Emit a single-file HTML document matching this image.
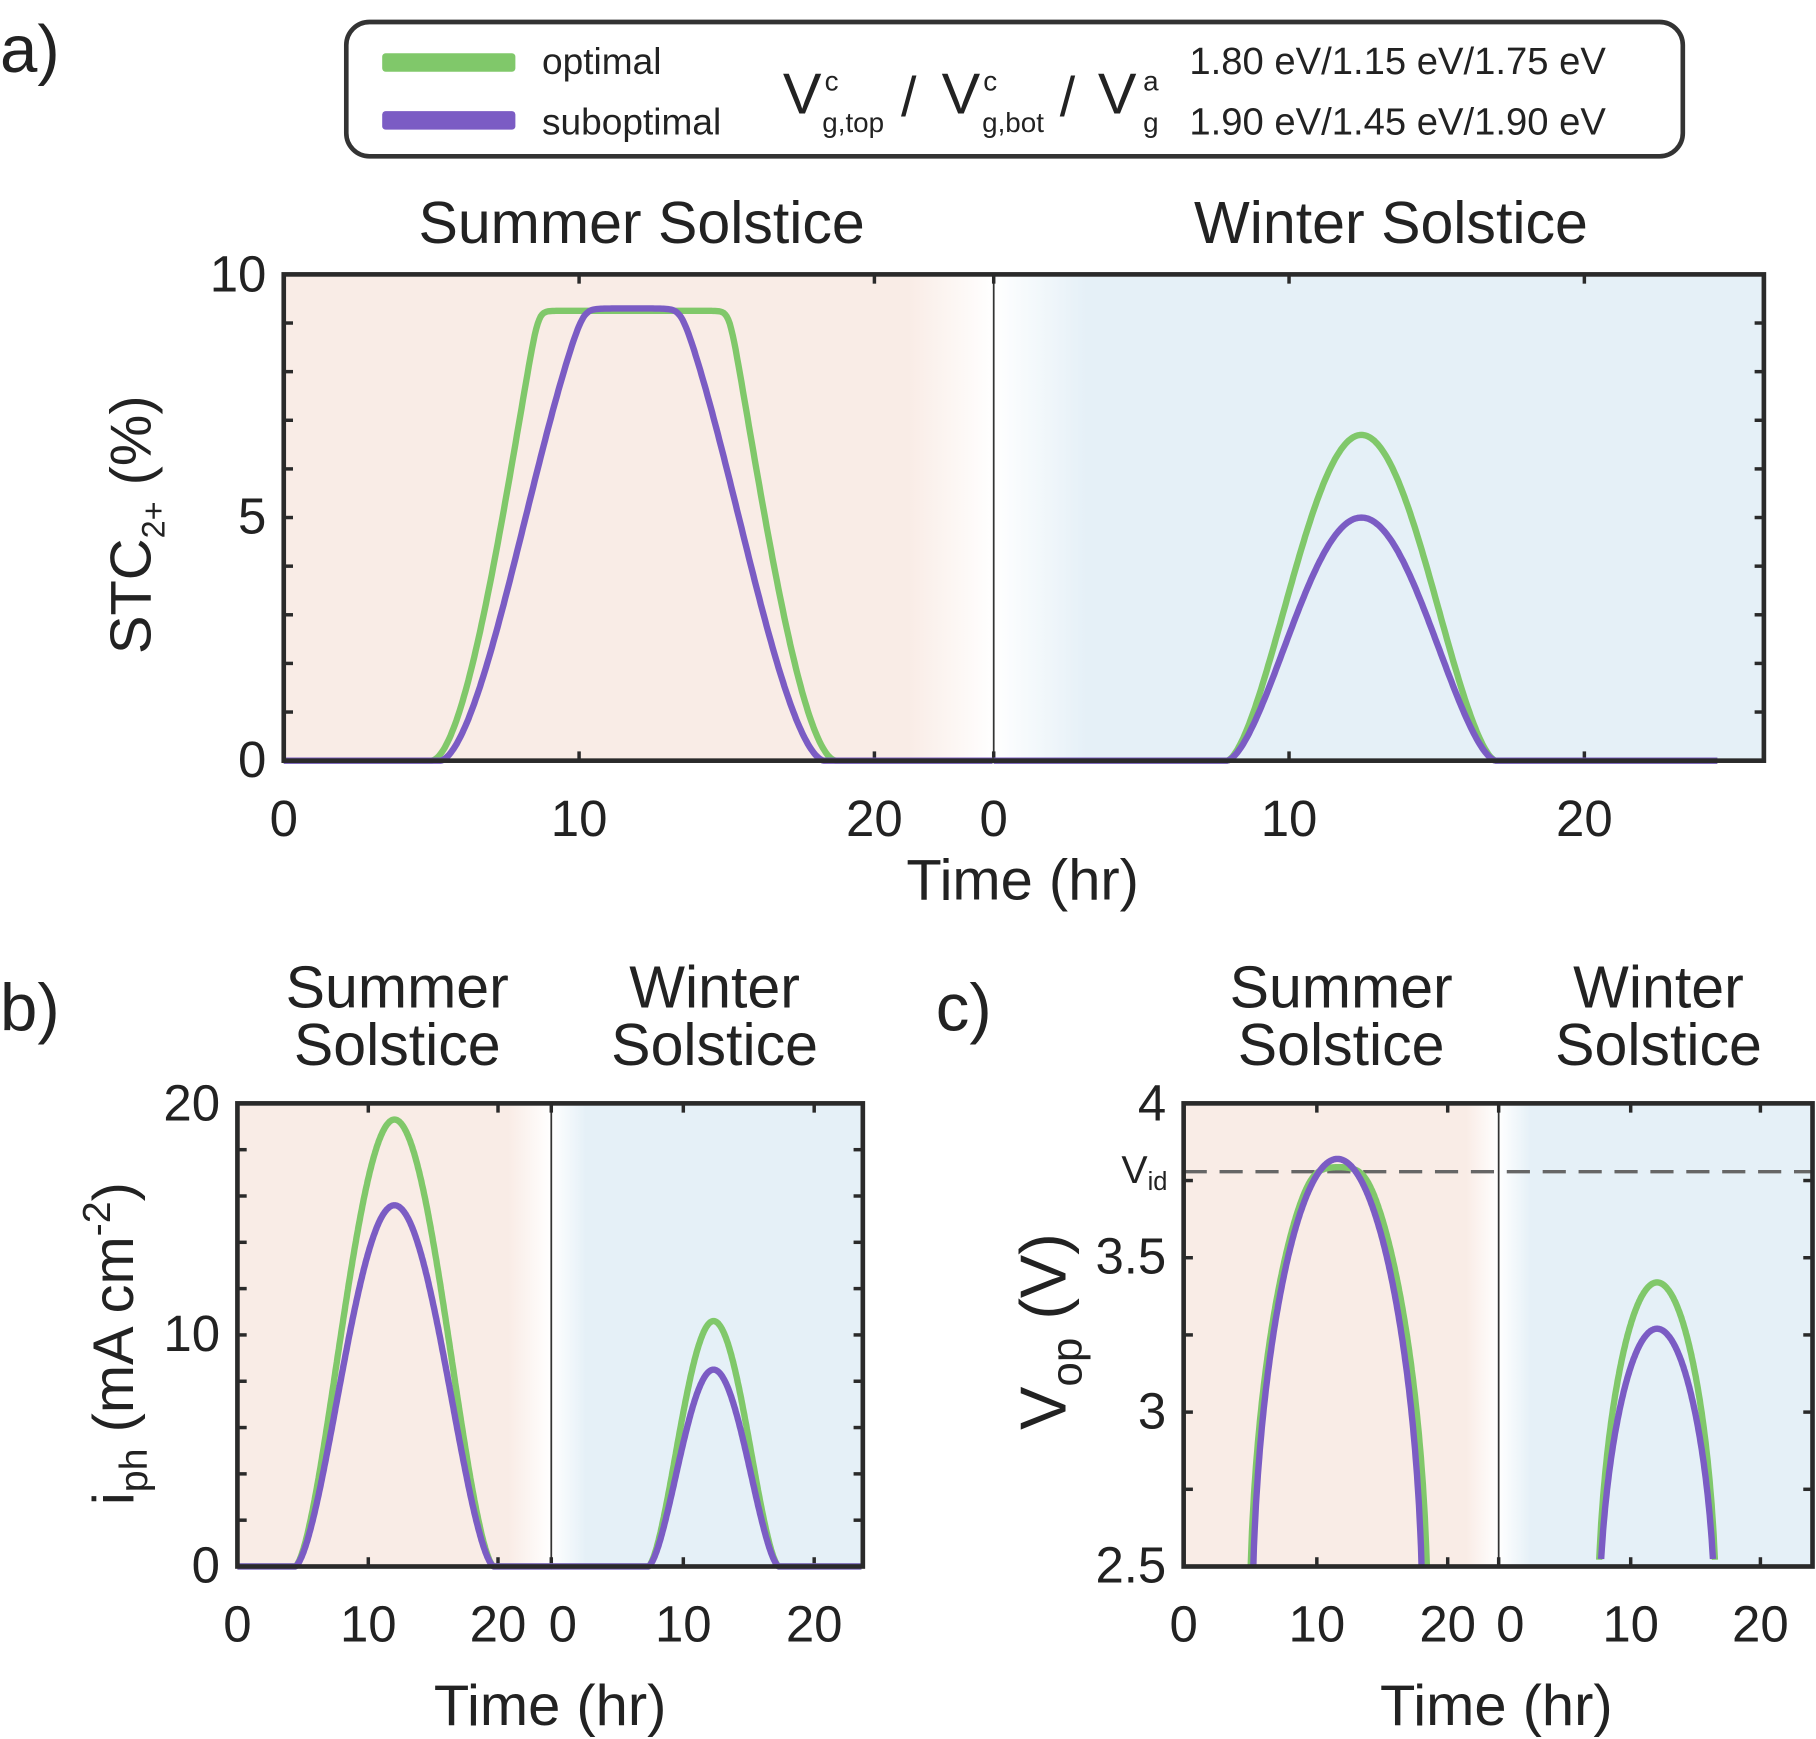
<!DOCTYPE html>
<html><head><meta charset="utf-8"><style>
html,body{margin:0;padding:0;background:#fff}
svg{display:block}
text{font-family:"Liberation Sans",sans-serif;fill:#222}
</style></head><body>
<svg id="s" width="1816" height="1739" viewBox="0 0 1568 1502" preserveAspectRatio="none" xmlns="http://www.w3.org/2000/svg">
<defs>
<linearGradient id="ga" x1="0" x2="1"><stop offset="0" stop-color="#f9ece6"/><stop offset="1" stop-color="#fff"/></linearGradient>
<linearGradient id="gb" x1="0" x2="1"><stop offset="0" stop-color="#fff"/><stop offset="1" stop-color="#e5f0f7"/></linearGradient>
</defs>
<text x="0" y="62" font-size="58">a)</text>
<text x="0" y="890" font-size="58">b)</text>
<text x="808" y="890" font-size="58">c)</text>
<rect x="299" y="19" width="1154" height="116" rx="20" fill="#fff" stroke="#333" stroke-width="4"/>
<rect x="330" y="46" width="115" height="16" rx="3" fill="#80c86a"/>
<rect x="330" y="96" width="115" height="16" rx="3" fill="#7b5cc4"/>
<text x="468" y="64" font-size="32">optimal</text>
<text x="468" y="116" font-size="32">suboptimal</text>
<text x="676" y="98" font-size="50">V</text>
<text x="712" y="78" font-size="24">c</text>
<text x="710" y="114" font-size="24">g,top</text>
<text x="778" y="100" font-size="48">/</text>
<text x="813" y="98" font-size="50">V</text>
<text x="849" y="78" font-size="24">c</text>
<text x="848" y="114" font-size="24">g,bot</text>
<text x="915" y="100" font-size="48">/</text>
<text x="948" y="98" font-size="50">V</text>
<text x="987" y="78" font-size="24">a</text>
<text x="987" y="114" font-size="24">g</text>
<text x="1027" y="64" font-size="33">1.80 eV/1.15 eV/1.75 eV</text>
<text x="1027" y="116" font-size="33">1.90 eV/1.45 eV/1.90 eV</text>
<text x="554" y="210" font-size="51" text-anchor="middle">Summer Solstice</text>
<text x="1201" y="210" font-size="51" text-anchor="middle">Winter Solstice</text>
<rect x="245" y="237" width="540" height="420" fill="#f9ece6"/>
<rect x="784" y="237" width="74" height="420" fill="url(#ga)"/>
<rect x="858" y="237" width="80" height="420" fill="url(#gb)"/>
<rect x="937" y="237" width="586" height="420" fill="#e5f0f7"/>
<line x1="858" y1="237" x2="858" y2="657" stroke="#333" stroke-width="1.5"/>
<g id="ta"></g>
<g id="ca"></g>
<rect x="245" y="237" width="1278" height="420" fill="none" stroke="#2a2a2a" stroke-width="4"/>
<g font-size="44" text-anchor="middle">
<text x="245" y="722">0</text><text x="500" y="722">10</text><text x="755" y="722">20</text>
<text x="858" y="722">0</text><text x="1113" y="722">10</text><text x="1368" y="722">20</text>
</g>
<g font-size="44" text-anchor="end">
<text x="230" y="671">0</text><text x="230" y="461">5</text><text x="230" y="252">10</text>
</g>
<text x="883" y="777" font-size="50" text-anchor="middle">Time (hr)</text>
<text transform="translate(130,565) rotate(-90)" font-size="50">STC<tspan font-size="28" dy="12">2+</tspan><tspan dy="-12"> (%)</tspan></text>
<text x="343" y="870" font-size="51" text-anchor="middle">Summer</text>
<text x="343" y="920" font-size="51" text-anchor="middle">Solstice</text>
<text x="617" y="870" font-size="51" text-anchor="middle">Winter</text>
<text x="617" y="920" font-size="51" text-anchor="middle">Solstice</text>
<rect x="205" y="953" width="235" height="400" fill="#f9ece6"/>
<rect x="439" y="953" width="37" height="400" fill="url(#ga)"/>
<rect x="476" y="953" width="30" height="400" fill="url(#gb)"/>
<rect x="505" y="953" width="240" height="400" fill="#e5f0f7"/>
<line x1="476" y1="953" x2="476" y2="1353" stroke="#333" stroke-width="1.5"/>
<g id="tb"></g>
<g id="cb"></g>
<rect x="205" y="953" width="540" height="400" fill="none" stroke="#2a2a2a" stroke-width="4"/>
<g font-size="44" text-anchor="middle">
<text x="205" y="1418">0</text><text x="318" y="1418">10</text><text x="430" y="1418">20</text>
<text x="486" y="1418">0</text><text x="590" y="1418">10</text><text x="703" y="1418">20</text>
</g>
<g font-size="44" text-anchor="end">
<text x="190" y="1367">0</text><text x="190" y="1167">10</text><text x="190" y="968">20</text>
</g>
<text x="475" y="1490" font-size="50" text-anchor="middle">Time (hr)</text>
<text transform="translate(115,1300) rotate(-90)" font-size="50">i<tspan font-size="34" dy="12">ph</tspan><tspan dy="-12"> (mA cm</tspan><tspan font-size="34" dy="-20">-2</tspan><tspan dy="20">)</tspan></text>
<text x="1158" y="870" font-size="51" text-anchor="middle">Summer</text>
<text x="1158" y="920" font-size="51" text-anchor="middle">Solstice</text>
<text x="1432" y="870" font-size="51" text-anchor="middle">Winter</text>
<text x="1432" y="920" font-size="51" text-anchor="middle">Solstice</text>
<rect x="1022" y="953" width="245" height="400" fill="#f9ece6"/>
<rect x="1266" y="953" width="28" height="400" fill="url(#ga)"/>
<rect x="1294" y="953" width="28" height="400" fill="url(#gb)"/>
<rect x="1321" y="953" width="244" height="400" fill="#e5f0f7"/>
<line x1="1294" y1="953" x2="1294" y2="1353" stroke="#333" stroke-width="1.5"/>
<g id="tc"></g>
<line x1="1022" y1="1012" x2="1565" y2="1012" stroke="#666" stroke-width="3" stroke-dasharray="20,11"/>
<g id="cc"></g>
<rect x="1022" y="953" width="543" height="400" fill="none" stroke="#2a2a2a" stroke-width="4"/>
<g font-size="44" text-anchor="middle">
<text x="1022" y="1418">0</text><text x="1137" y="1418">10</text><text x="1250" y="1418">20</text>
<text x="1304" y="1418">0</text><text x="1408" y="1418">10</text><text x="1520" y="1418">20</text>
</g>
<g font-size="44" text-anchor="end">
<text x="1007" y="1367">2.5</text><text x="1007" y="1234">3</text><text x="1007" y="1100">3.5</text><text x="1007" y="968">4</text>
<text x="1008" y="1022" font-size="34" text-anchor="end">V<tspan font-size="22" dy="6">id</tspan></text>
</g>
<text x="1292" y="1490" font-size="50" text-anchor="middle">Time (hr)</text>
<text transform="translate(920,1235) rotate(-90)" font-size="56">V<tspan font-size="38" dy="14">op</tspan><tspan dy="-14"> (V)</tspan></text>
</svg>
<script>
var NS="http://www.w3.org/2000/svg";
function el(g,tag,a){var e=document.createElementNS(NS,tag);for(var k in a)e.setAttribute(k,a[k]);document.getElementById(g).appendChild(e);}
function bell(t,t0,t1,A,p){if(t<=t0||t>=t1)return 0;return A*Math.pow(Math.sin(Math.PI*(t-t0)/(t1-t0)),p);}
function smin(a,b,k){return -Math.log(Math.exp(-k*a)+Math.exp(-k*b))/k;}
function curve(g,x0,ppx,y0,ppy,f,tmin,tmax,col,w,ymin){
 var pts=[];for(var t=tmin;t<=tmax+1e-9;t+=0.05){var v=f(t);if(ymin!==undefined){if(v<ymin)continue;}pts.push((x0+t*ppx).toFixed(1)+","+(y0-v*ppy).toFixed(1));}
 el(g,"polyline",{points:pts.join(" "),fill:"none",stroke:col,"stroke-width":w,"stroke-linejoin":"round"});}
var G="#80c86a",P="#7b5cc4";
function ticksX(g,xs,y1,y2){xs.forEach(function(x){el(g,"line",{x1:x,y1:y2,x2:x,y2:y2-8,stroke:"#2a2a2a","stroke-width":3});el(g,"line",{x1:x,y1:y1,x2:x,y2:y1+8,stroke:"#2a2a2a","stroke-width":3});});}
function ticksY(g,ys,x1,x2){ys.forEach(function(y){el(g,"line",{x1:x1,y1:y,x2:x1+8,y2:y,stroke:"#2a2a2a","stroke-width":3});el(g,"line",{x1:x2,y1:y,x2:x2-8,y2:y,stroke:"#2a2a2a","stroke-width":3});});}
ticksX("ta",[245,500,755,858,1113,1368],237,657);
var ya=[];for(var i=0;i<=10;i++)ya.push(657-i*42);ticksY("ta",ya,245,1523);
ticksX("tb",[205,318,430,476,590,703],953,1353);
var yb=[];for(var i=0;i<=10;i++)yb.push(1353-i*40);ticksY("tb",yb,205,745);
ticksX("tc",[1022,1137,1250,1294,1408,1520],953,1353);
var yc=[];for(var i=0;i<=6;i++)yc.push(1353-i*66.67);ticksY("tc",yc,1022,1565);
function sg(t){var v=bell(t,5,18.7,16,1.8);return v<=0?0:Math.max(0,smin(9.25,v,3));}
function sp(t){var v=bell(t,5.3,18.3,10.6,1.7);return v<=0?0:Math.max(0,smin(9.3,v,5));}
curve("ca",245,25.5,657,42,sg,0,24,G,5.5);
curve("ca",858,25.5,657,42,function(t){return bell(t,7.9,17,6.7,1.6);},0,24.5,G,5.5);
curve("ca",245,25.5,657,42,sp,0,24,P,5.5);
curve("ca",858,25.5,657,42,function(t){return bell(t,7.9,17,5.0,1.6);},0,24.5,P,5.5);
curve("cb",205,11.3,1353,20,function(t){return bell(t,4.4,19.6,19.3,1.6);},0,24,G,5.5);
curve("cb",476,11.3,1353,20,function(t){return bell(t,7.4,17.4,10.6,1.6);},0,23.7,G,5.5);
curve("cb",205,11.3,1353,20,function(t){return bell(t,4.4,19.6,15.6,1.6);},0,24,P,5.5);
curve("cb",476,11.3,1353,20,function(t){return bell(t,7.4,17.4,8.5,1.6);},0,23.7,P,5.5);
function vc(t0,t1,pk){return function(t){if(t<=t0||t>=t1)return -1;var s=Math.sin(Math.PI*(t-t0)/(t1-t0));return -0.3+(pk-2.2)*Math.pow(s,0.45);};}
function vcg(t){var v=vc(5.0,18.6,3.85)(t);return v<0?v:smin(v,1.30,30);}
curve("cc",1022,11.35,1353,266.7,vcg,4.5,19,G,5.5,-0.01);
curve("cc",1294,11.35,1353,266.7,vc(7.5,16.6,3.42),7,17,G,5.5,-0.01);
curve("cc",1022,11.35,1353,266.7,vc(5.2,18.2,3.82),4.5,19,P,5.5,-0.01);
curve("cc",1294,11.35,1353,266.7,vc(7.6,16.5,3.27),7,17,P,5.5,-0.01);
</script>
</body></html>
